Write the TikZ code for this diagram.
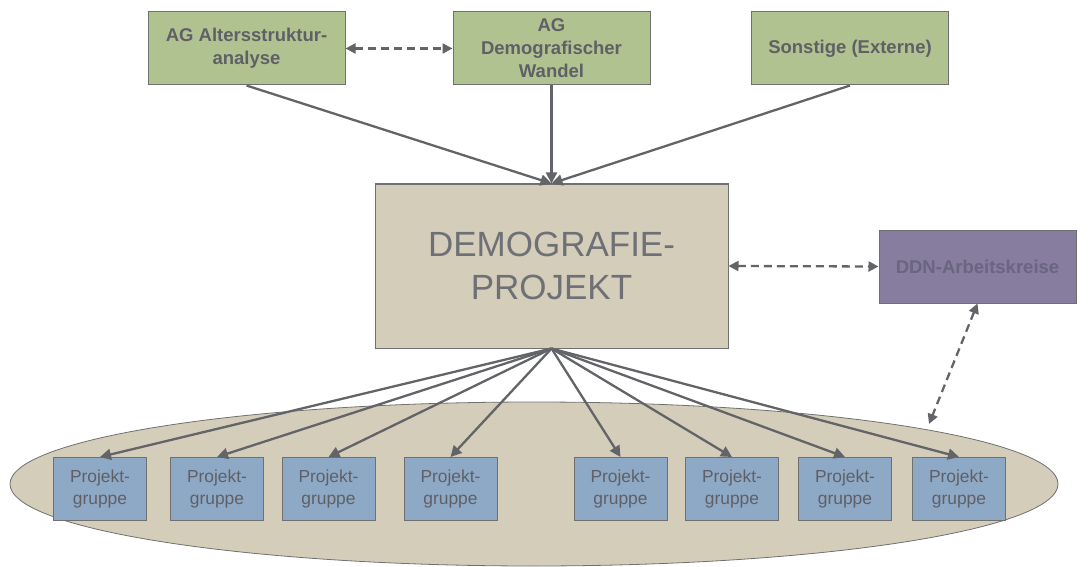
\documentclass[tikz,border=0pt]{standalone}
\usepackage{fontspec}
\setmainfont{Liberation Sans}
\usetikzlibrary{arrows.meta,shapes.geometric}

\definecolor{agGruen}{HTML}{B1C291}
\definecolor{projBeige}{HTML}{D4CDBA}
\definecolor{ddnLila}{HTML}{867D9F}
\definecolor{pgBlau}{HTML}{8EA9C5}
\definecolor{rahmen}{HTML}{707070}
\definecolor{pfeilgrau}{HTML}{636468}
\definecolor{schrift}{HTML}{5F6066}
\definecolor{ddnSchrift}{HTML}{6A6580}

\begin{document}
\begin{tikzpicture}[x=1pt,y=-1pt,
	kasten/.style={shape=rectangle,draw=rahmen,line width=1pt,inner sep=2pt,align=center,text=schrift},
	ag/.style={kasten,fill=agGruen,minimum width=197pt,minimum height=73pt,font=\fontsize{18.5}{23}\selectfont\bfseries},
	pg/.style={kasten,fill=pgBlau,minimum width=93pt,minimum height=63pt,font=\fontsize{17.4}{21.5}\selectfont},
	pfeil/.style={-{Triangle[length=11pt,width=11pt]},line width=2.3pt,color=pfeilgrau},
	doppel/.style={{Triangle[length=10pt,width=10pt]}-{Triangle[length=10pt,width=10pt]},line width=2.3pt,color=pfeilgrau,dash pattern=on 8pt off 5pt}]

	\useasboundingbox (0,0) rectangle (1090,567);
	\clip (0,0) rectangle (1090,567);

	% Projektgruppen-Ellipse
	\node[shape=ellipse,draw=rahmen,fill=projBeige,line width=0.8pt,inner sep=0pt,minimum width=1048pt,minimum height=164pt] (gruppen) at (534,484) {};
	\coordinate (gruppenrand) at (929,424);

	\node[ag] (agalt)   at (246.5,48.5) {AG Altersstruktur-\\analyse};
	\node[ag] (agdemo)  at (551.5,48.5) {AG\\Demografischer\\Wandel};
	\node[ag] (sonst)   at (850,48.5)   {Sonstige (Externe)};

	\node[kasten,fill=projBeige,minimum width=353pt,minimum height=164pt,font=\fontsize{35}{43}\selectfont,text=schrift!90] (demo) at (551.5,266) {DEMOGRAFIE-\\PROJEKT};
	\node[ag,fill=ddnLila,text=ddnSchrift] (ddn) at (977.5,266.5) {DDN-Arbeitskreise};

	\node[pg] (pg1) at (100,489)   {Projekt-\\gruppe};
	\node[pg] (pg2) at (217,489)   {Projekt-\\gruppe};
	\node[pg] (pg3) at (328.5,489) {Projekt-\\gruppe};
	\node[pg] (pg4) at (450.5,489) {Projekt-\\gruppe};
	\node[pg] (pg5) at (620.5,489) {Projekt-\\gruppe};
	\node[pg] (pg6) at (732,489)   {Projekt-\\gruppe};
	\node[pg] (pg7) at (845,489)   {Projekt-\\gruppe};
	\node[pg] (pg8) at (959,489)   {Projekt-\\gruppe};

	\path[pfeil] (agalt.south)  edge (demo.north);
	\path[pfeil] (agdemo.south) edge (demo.north);
	\path[pfeil] (sonst.south)  edge (demo.north);

	\path[doppel] (agalt.east) edge (agdemo.west);
	\path[doppel] (demo.east)  edge (ddn.west);
	\path[doppel] (ddn.south)  edge (gruppenrand);

	\path[pfeil] (demo.south) edge (pg1.north);
	\path[pfeil] (demo.south) edge (pg2.north);
	\path[pfeil] (demo.south) edge (pg3.north);
	\path[pfeil] (demo.south) edge (pg4.north);
	\path[pfeil] (demo.south) edge (pg5.north);
	\path[pfeil] (demo.south) edge (pg6.north);
	\path[pfeil] (demo.south) edge (pg7.north);
	\path[pfeil] (demo.south) edge (pg8.north);

\end{tikzpicture}
\end{document}
